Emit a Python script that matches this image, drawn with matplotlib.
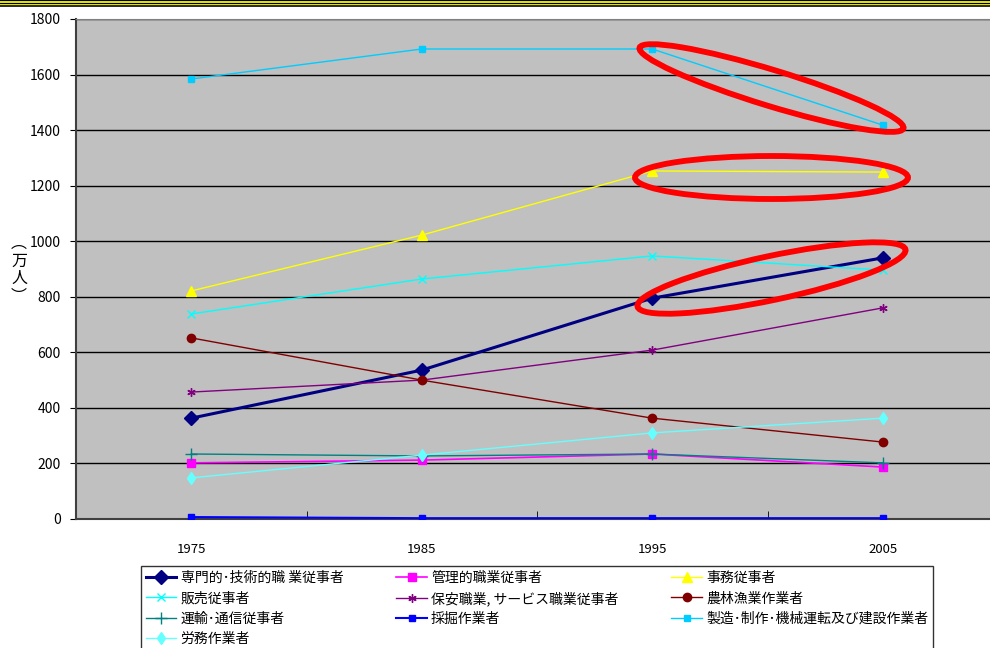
# 職業別就業者数の推移（1975-2005）
import matplotlib
matplotlib.use('Agg')
import matplotlib.pyplot as plt
from matplotlib.patches import Ellipse, Rectangle
from matplotlib.transforms import ScaledTranslation

plt.rcParams['font.family'] = ['Noto Sans CJK JP', 'DejaVu Sans']

# data (万人)
years = ['1975', '1985', '1995', '2005']
senmon = [363, 536, 795, 940]          # 専門的・技術的職業従事者
kanri = [202, 212, 234, 187]           # 管理的職業従事者
jimu = [821, 1022, 1253, 1249]         # 事務従事者
hanbai = [738, 864, 947, 896]          # 販売従事者
hoan = [457, 500, 608, 760]            # 保安職業, サービス職業従事者
nourin = [652, 500, 363, 277]          # 農林漁業作業者
unyu = [234, 227, 234, 202]            # 運輸・通信従事者
saikutsu = [7, 3, 3, 3]                # 採掘作業者
seizou = [1584, 1692, 1692, 1418]      # 製造・制作・機械運転及び建設作業者
roumu = [148, 230, 310, 363]           # 労務作業者

labels = ['専門的･技術的職 業従事者', '管理的職業従事者', '事務従事者',
          '販売従事者', '保安職業, サービス職業従事者', '農林漁業作業者',
          '運輸･通信従事者', '採掘作業者', '製造･制作･機械運転及び建設作業者',
          '労務作業者']

fig = plt.figure(figsize=(9.9, 6.48), dpi=100)
ax = fig.add_axes([76/990, 1-519/648, 922/990, 500/648])
ax.set_facecolor('#C0C0C0')

x = range(len(years))
# series styles: (values, color, marker, markersize, linewidth)
series = [
    (senmon, '#000080', 'D', 7.5, 2.2),
    (kanri, '#FF00FF', 's', 6, 1.2),
    (jimu, '#FFFF00', '^', 7, 1.0),
    (hanbai, '#00FFFF', 'x', 6, 1.0),
    (hoan, '#800080', (6, 2, 0), 6, 1.0),
    (nourin, '#800000', 'o', 6, 1.0),
    (unyu, '#008080', '+', 8, 1.0),
    (saikutsu, '#0000FF', 's', 4, 1.5),
    (seizou, '#00CCFF', 's', 5, 1.0),
    (roumu, '#66FFFF', 'd', 6.5, 1.0),
]
handles = []
for (vals, col, mk, ms, lw), lab in zip(series, labels):
    h, = ax.plot(x, vals, color=col, marker=mk, markersize=ms, linewidth=lw,
                 markeredgecolor=col, markerfacecolor=col, label=lab, zorder=3)
    handles.append(h)

ax.set_xlim(-0.5, 3.5)
ax.set_ylim(0, 1800)
ax.set_yticks(range(0, 1801, 200))
ax.yaxis.grid(True, color='black', linewidth=1)
ax.set_axisbelow(True)
ax.set_xticks(list(x))
ax.set_xticklabels(years)
ax.tick_params(axis='x', length=0, pad=17, labelsize=9.5)
ax.set_xticks([0.5, 1.5, 2.5], minor=True)
ax.tick_params(axis='x', which='minor', direction='in', length=6, color='black')
ax.tick_params(axis='y', length=4, pad=7, labelsize=10)
for s in ['left', 'bottom']:
    ax.spines[s].set_color('#404040')
    ax.spines[s].set_linewidth(1.5)
ax.spines['top'].set_color('#808080')
ax.spines['right'].set_visible(False)

# y label written vertically
fig.text(19/990, 1-270/648, '︵\n万\n人\n︶', ha='center', va='center',
         fontsize=11.5, linespacing=1.05)

# red ellipses around 1995-2005 segments
def ring(vals, w, h, ang, dy=0.0):
    cx = 2.5
    cy = (vals[2] + vals[3]) / 2
    tr = fig.dpi_scale_trans + ScaledTranslation(cx, cy, ax.transData)
    e = Ellipse((0.04, dy), w/100, h/100, angle=ang, transform=tr,
                fill=False, edgecolor='red', linewidth=4.2, zorder=5)
    ax.add_patch(e)

ring(seizou, 276, 36, -17, dy=-0.01)
ring(jimu, 273, 43, 0, dy=-0.06)
ring(senmon, 274, 44, 12)

# legend, row-wise order
order = [0, 3, 6, 9, 1, 4, 7, 2, 5, 8]
leg = fig.legend([handles[i] for i in order], [labels[i] for i in order],
                 ncol=3, loc='upper left',
                 bbox_to_anchor=(141/990, 1-566/648, 792/990, 0.0),
                 mode='expand', fontsize=10, frameon=True, fancybox=False,
                 handlelength=2.2, handletextpad=0.3, labelspacing=0.46,
                 borderpad=0.35, borderaxespad=0)
leg.get_frame().set_edgecolor('black')
leg.get_frame().set_linewidth(1)

# striped band at the top (pixel rows from the top edge)
for top, h, col in [(0, 1, 'black'), (1, 2, '#E0E000'), (3, 1, 'black'),
                    (4, 1.5, '#E0E000'), (5.5, 1, '#303030')]:
    fig.add_artist(Rectangle((0, 1-(top+h)/648), 1, h/648, color=col,
                             linewidth=0, antialiased=False,
                             transform=fig.transFigure))

fig.savefig('out.png', dpi=100)
